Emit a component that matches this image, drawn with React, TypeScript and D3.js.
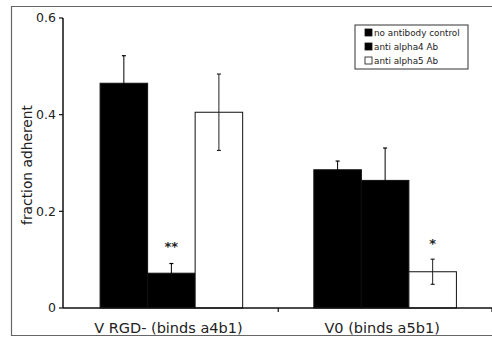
import React, { useEffect, useRef } from 'react';
import * as d3 from 'd3';

// categories on the x axis and the three series in the legend
const categories = ['V RGD- (binds a4b1)', 'V0 (binds a5b1)'];
const series = ['no antibody control', 'anti alpha4 Ab', 'anti alpha5 Ab'];
const seriesFill = ['#000', '#000', '#fff'];

// mean fraction adherent per series, one value per category
const noAntibody = [0.465, 0.286];
const antiAlpha4 = [0.072, 0.264];
const antiAlpha5 = [0.405, 0.075];

// error bar half-heights
const noAntibodyErr = [0.057, 0.018];
const antiAlpha4Err = [0.02, 0.067];
const antiAlpha5Err = [0.079, 0.026];

// significance marks: [category index, series index, label]
const marks: [number, number, string][] = [
  [0, 1, '**'],
  [1, 2, '*'],
];

const yTicks = [0, 0.2, 0.4, 0.6];

const App = () => {
  const ref = useRef<SVGSVGElement>(null);

  useEffect(() => {
    const svg = d3.select(ref.current);
    svg.selectAll('*').remove();

    const width = 492;
    const font = 'DejaVu Sans, Verdana, sans-serif';
    const values = [noAntibody, antiAlpha4, antiAlpha5];
    const errors = [noAntibodyErr, antiAlpha4Err, antiAlpha5Err];

    // outer frame of the figure
    svg
      .append('path')
      .attr('d', `M${width},6.5 H11.5 V335.5 H${width}`)
      .attr('fill', 'none')
      .attr('stroke', '#666')
      .attr('stroke-width', 1.2);

    // === scales ===
    const x0 = d3.scaleBand().domain(categories).range([64.5, 492]);
    const groupW = x0.bandwidth() * 0.667;
    const x1 = d3.scaleBand().domain(series).range([0, groupW]);
    const y = d3.scaleLinear().domain([0, 0.6]).range([308, 18]);
    const offset = (x0.bandwidth() - groupW) / 2;

    // === bars ===
    const g = svg.append('g');
    categories.forEach((c, ci) => {
      series.forEach((s, si) => {
        const bx = (x0(c) as number) + offset + (x1(s) as number);
        const v = values[si][ci];
        g.append('rect')
          .attr('x', bx)
          .attr('y', y(v))
          .attr('width', x1.bandwidth())
          .attr('height', y(0) - y(v))
          .attr('fill', seriesFill[si])
          .attr('stroke', '#111')
          .attr('stroke-width', 1);

        // error bar
        const cx = bx + x1.bandwidth() / 2;
        const e = errors[si][ci];
        const col = seriesFill[si] === '#000' ? '#000' : '#222';
        g.append('line')
          .attr('x1', cx)
          .attr('x2', cx)
          .attr('y1', y(v + e))
          .attr('y2', y(v - e))
          .attr('stroke', col)
          .attr('stroke-width', 1);
        [v + e, v - e].forEach((ev) => {
          g.append('line')
            .attr('x1', cx - 2)
            .attr('x2', cx + 2)
            .attr('y1', y(ev))
            .attr('y2', y(ev))
            .attr('stroke', col)
            .attr('stroke-width', 1.2);
        });
      });
    });

    // significance stars, set a fixed distance above the error bar
    marks.forEach(([ci, si, label]) => {
      const bx = (x0(categories[ci]) as number) + offset + (x1(series[si]) as number);
      const top = values[si][ci] + errors[si][ci];
      svg
        .append('text')
        .attr('x', bx + x1.bandwidth() / 2)
        .attr('y', y(top) - 9 - label.length * 2)
        .attr('text-anchor', 'middle')
        .attr('font-family', font)
        .attr('font-size', 13)
        .attr('font-weight', 'bold')
        .attr('fill', '#222')
        .text(label);
    });

    // === y axis ===
    const yAxis = svg.append('g');
    yAxis
      .append('line')
      .attr('x1', 63)
      .attr('x2', 63)
      .attr('y1', y(0.6))
      .attr('y2', y(0))
      .attr('stroke', '#111')
      .attr('stroke-width', 1.5);
    yTicks.forEach((t) => {
      yAxis
        .append('line')
        .attr('x1', 59)
        .attr('x2', 63)
        .attr('y1', y(t))
        .attr('y2', y(t))
        .attr('stroke', '#111')
        .attr('stroke-width', 1.2);
      yAxis
        .append('text')
        .attr('x', 56)
        .attr('y', y(t))
        .attr('dy', '0.35em')
        .attr('text-anchor', 'end')
        .attr('font-family', font)
        .attr('font-size', 12.5)
        .attr('fill', '#222')
        .text(t === 0 ? '0' : d3.format('.1f')(t));
    });
    svg
      .append('text')
      .attr('transform', `translate(32,${(y(0) + y(0.6)) / 2 + 2}) rotate(-90)`)
      .attr('text-anchor', 'middle')
      .attr('font-family', font)
      .attr('font-size', 13.8)
      .attr('fill', '#222')
      .text('fraction adherent');

    // === x axis ===
    const xAxis = svg.append('g');
    xAxis
      .append('line')
      .attr('x1', 63)
      .attr('x2', 492)
      .attr('y1', y(0))
      .attr('y2', y(0))
      .attr('stroke', '#111')
      .attr('stroke-width', 1.5);
    categories.forEach((c) => {
      const edge = (x0(c) as number) + x0.bandwidth();
      xAxis
        .append('line')
        .attr('x1', edge)
        .attr('x2', edge)
        .attr('y1', y(0))
        .attr('y2', y(0) + 4)
        .attr('stroke', '#111')
        .attr('stroke-width', 1.2);
      xAxis
        .append('text')
        .attr('x', (x0(c) as number) + x0.bandwidth() / 2 - 3)
        .attr('y', 333)
        .attr('text-anchor', 'middle')
        .attr('font-family', font)
        .attr('font-size', 14.5)
        .attr('fill', '#222')
        .text(c);
    });

    // === legend ===
    const legend = svg.append('g').attr('transform', 'translate(355,25)');
    legend
      .append('rect')
      .attr('width', 113)
      .attr('height', 44)
      .attr('fill', '#fff')
      .attr('stroke', '#333')
      .attr('stroke-width', 1);
    series.forEach((s, i) => {
      const ly = 8 + i * 14;
      legend
        .append('rect')
        .attr('x', 10)
        .attr('y', ly - 4)
        .attr('width', 7)
        .attr('height', 7)
        .attr('fill', seriesFill[i])
        .attr('stroke', '#111')
        .attr('stroke-width', 0.8);
      legend
        .append('text')
        .attr('x', 19)
        .attr('y', ly)
        .attr('dy', '0.35em')
        .attr('font-family', font)
        .attr('font-size', 8.8)
        .attr('fill', '#222')
        .text(s);
    });
  }, []);

  return (
    <svg
      ref={ref}
      width={492}
      height={339}
      style={{ position: 'absolute', left: 0, top: 0, background: '#fff' }}
    ></svg>
  );
};

export default App;
